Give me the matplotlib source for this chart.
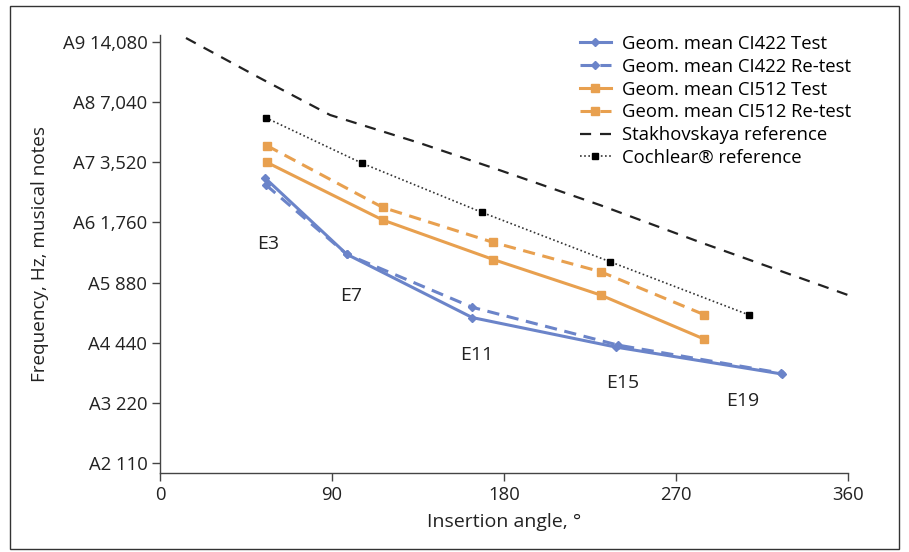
import matplotlib.pyplot as plt
from matplotlib.patches import Rectangle
from matplotlib.ticker import FixedLocator, NullLocator

plt.rcParams['font.family'] = ['Open Sans', 'DejaVu Sans']

# values (angle in degrees, frequency in Hz)
ci422_angle = [55.0, 97.7, 163.4, 238.8, 325.3]
ci422_test = [2936, 1220, 588, 418, 307]
ci422_retest_angle = [55.5, 97.7, 163.4, 239.7, 325.0]
ci422_retest = [2708, 1220, 662, 428, 310]

ci512_angle = [56.0, 116.5, 174.4, 230.6, 284.7]
ci512_test = [3514, 1811, 1148, 762, 459]
ci512_retest = [4261, 2093, 1398, 997, 608]

stakh_angle = [13.6, 52.3, 89.0, 136.0, 177.9, 230.2, 282.6, 360.0]
stakh_freq = [14740, 9290, 6070, 4390, 3210, 2150, 1401, 762]

cochlear_angle = [55.3, 105.9, 168.3, 235.6, 308.2]
cochlear_freq = [5886, 3475, 1979, 1118, 606]

electrodes = ['E3', 'E7', 'E11', 'E15', 'E19']
electrode_angle = [56.5, 100.0, 165.9, 242.3, 305.0]
electrode_freq = [1371, 753, 380, 276, 224]

y_ticks = [110, 220, 440, 880, 1760, 3520, 7040, 14080]
y_labels = ['A2 110', 'A3 220', 'A4 440', 'A5 880', 'A6 1,760',
            'A7 3,520', 'A8 7,040', 'A9 14,080']
x_ticks = [0, 90, 180, 270, 360]

blue = '#6b84c9'
orange = '#e8a04f'
fs = 13.3

fig = plt.figure(figsize=(9.09, 5.52), dpi=100)
ax = fig.add_axes([0.176, 0.143, 0.757, 0.794])

ax.plot(ci422_angle, ci422_test, color=blue, lw=2.2, marker='D', ms=4,
        label='Geom. mean CI422 Test')
ax.plot(ci422_retest_angle, ci422_retest, color=blue, lw=2.2, ls=(0, (4, 2.5)),
        marker='D', ms=4, label='Geom. mean CI422 Re-test')
ax.plot(ci512_angle, ci512_test, color=orange, lw=2.2, marker='s', ms=6,
        label='Geom. mean CI512 Test')
ax.plot(ci512_angle, ci512_retest, color=orange, lw=2.2, ls=(0, (4, 2.5)),
        marker='s', ms=6, label='Geom. mean CI512 Re-test')
ax.plot(stakh_angle, stakh_freq, color='#222222', lw=1.6, ls=(0, (5, 4)),
        label='Stakhovskaya reference')
ax.plot(cochlear_angle, cochlear_freq, color='#333333', lw=1.2, ls=(0, (1, 1.5)),
        marker='s', ms=4.5, mfc='black', mec='black',
        label='Cochlear\u00ae reference')

for name, a, f in zip(electrodes, electrode_angle, electrode_freq):
    ax.text(a, f, name, ha='center', va='center', fontsize=fs + 0.7,
            color='#222222')

ax.set_yscale('log', base=2)
ax.set_ylim(98, 15300)
ax.set_xlim(0, 360)
ax.yaxis.set_major_locator(FixedLocator(y_ticks))
ax.yaxis.set_minor_locator(NullLocator())
ax.set_yticklabels(y_labels)
ax.set_xticks(x_ticks)

for side in ['top', 'right']:
    ax.spines[side].set_visible(False)
for side in ['left', 'bottom']:
    ax.spines[side].set_color('#444444')
    ax.spines[side].set_linewidth(1.0)
ax.tick_params(axis='both', labelsize=fs, colors='#222222', length=6,
               width=1.0, color='#444444', pad=3)

ax.set_xlabel('Insertion angle, \u00b0', fontsize=fs + 0.7, color='#222222',
              labelpad=7)
ax.set_ylabel('Frequency, Hz, musical notes', fontsize=fs + 0.3, color='#222222',
              labelpad=10)

ax.legend(loc='upper right', bbox_to_anchor=(1.02, 1.025), frameon=False,
          fontsize=fs, handlelength=1.65, handletextpad=0.6, labelspacing=0.26,
          borderaxespad=0.2)

fig.patches.append(Rectangle((0.011, 0.006), 0.978, 0.983, transform=fig.transFigure,
                             fill=False, edgecolor='#333333', lw=1.0))

fig.savefig('out.png', dpi=100)
